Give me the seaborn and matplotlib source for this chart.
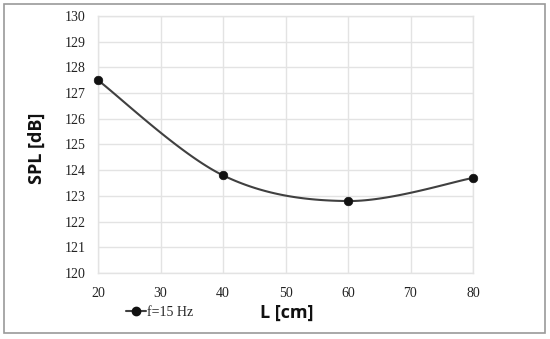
import numpy as np
import pandas as pd
import matplotlib
matplotlib.use("Agg")
import matplotlib.pyplot as plt
import seaborn as sns
from matplotlib.lines import Line2D
from matplotlib.patches import Rectangle

# valeurs
lengths = [20, 40, 60, 80]
spl = [127.5, 123.8, 122.8, 123.7]
series_label = "f=15 Hz"
x_ticks = [20, 30, 40, 50, 60, 70, 80]
y_ticks = [120, 121, 122, 123, 124, 125, 126, 127, 128, 129, 130]


def smooth_curve(xs, ys, n=40):
    # lissage type Excel (Catmull-Rom -> Bezier)
    px = [xs[0]] + list(xs) + [xs[-1]]
    py = [ys[0]] + list(ys) + [ys[-1]]
    out_x, out_y = [], []
    t = np.linspace(0, 1, n)
    for i in range(1, len(px) - 2):
        p0 = np.array([px[i], py[i]])
        p3 = np.array([px[i + 1], py[i + 1]])
        p1 = p0 + (np.array([px[i + 1], py[i + 1]]) - np.array([px[i - 1], py[i - 1]])) / 6
        p2 = p3 - (np.array([px[i + 2], py[i + 2]]) - np.array([px[i], py[i]])) / 6
        for tt in t:
            b = ((1 - tt) ** 3) * p0 + 3 * ((1 - tt) ** 2) * tt * p1 + 3 * (1 - tt) * tt ** 2 * p2 + tt ** 3 * p3
            out_x.append(b[0])
            out_y.append(b[1])
    return out_x, out_y


sns.set_style("white")
plt.rcParams["font.family"] = ["Liberation Serif", "DejaVu Serif"]

fig = plt.figure(figsize=(5.5, 3.39), dpi=100)
ax = fig.add_axes([98 / 550, 1 - 273 / 339, 375 / 550, 257 / 339])

cx, cy = smooth_curve(lengths, spl)
curve = pd.DataFrame({"L": cx, "SPL": cy})
points = pd.DataFrame({"L": lengths, "SPL": spl})

sns.lineplot(data=curve, x="L", y="SPL", ax=ax, color="#404040", linewidth=1.5, sort=False)
sns.scatterplot(data=points, x="L", y="SPL", ax=ax, color="#111111", s=38, edgecolor="#111111",
                zorder=5, clip_on=False)

ax.set_xlim(20, 80)
ax.set_ylim(120, 130)
ax.set_xticks(x_ticks)
ax.set_yticks(y_ticks)
ax.grid(True, color="#e3e3e3", linewidth=1)
for s in ax.spines.values():
    s.set_color("#e3e3e3")
    s.set_linewidth(1)
ax.tick_params(axis="both", length=0, labelsize=10, colors="#222222")
ax.tick_params(axis="x", pad=10)
ax.tick_params(axis="y", pad=9)

ax.set_xlabel("")
ax.set_ylabel("")
fig.text(287 / 550, 1 - 313 / 339, "L [cm]", ha="center", va="center",
         fontsize=13, fontweight="bold", family=["Open Sans", "DejaVu Sans"], color="#111111")
fig.text(37 / 550, 1 - 148 / 339, "SPL [dB]", ha="center", va="center", rotation=90,
         fontsize=13, fontweight="bold", family=["Open Sans", "DejaVu Sans"], color="#111111")

handle = Line2D([], [], color="#404040", linewidth=1.5, marker="o", markersize=6,
                markerfacecolor="#111111", markeredgecolor="#111111")
fig.legend([handle], [series_label], loc="center left", bbox_to_anchor=(120 / 550, 1 - 312 / 339),
           frameon=False, fontsize=10, handlelength=1.5, handletextpad=0.05, borderaxespad=0)

fig.patches.append(Rectangle((4 / 550, 1 - 333 / 339), 541 / 550, 329 / 339,
                             transform=fig.transFigure, fill=False, edgecolor="#9a9a9a", linewidth=1.2))

fig.savefig("out.png", dpi=100)
